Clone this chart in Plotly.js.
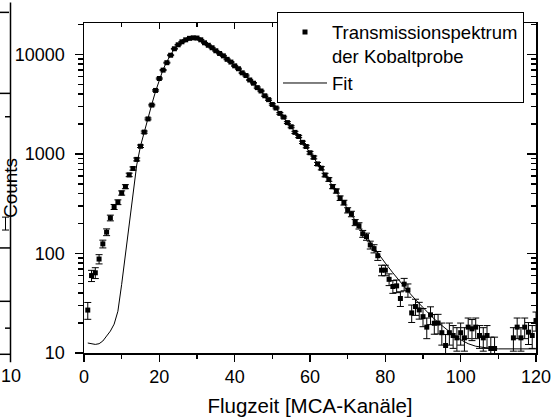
<!DOCTYPE html>
<html>
<head>
<meta charset="utf-8">
<script src="https://cdn.plot.ly/plotly-3.0.1.min.js"></script>
<style>html,body{margin:0;padding:0;background:#fff;}#chart{width:559px;height:417px;}</style>
</head>
<body>
<div id="chart"></div>
<script>
// Measured spectrum (MCA channel, counts)
const channels = [1,2,3,4,5,6,7,8,9,10,11,12,13,14,15,16,17,18,19,20,
  21,22,23,24,25,26,27,28,29,30,31,32,33,34,35,36,37,38,39,40,
  41,42,43,44,45,46,47,48,49,50,51,52,53,54,55,56,57,58,59,60,
  61,62,63,64,65,66,67,68,69,70,71,72,73,74,75,76,77,78,79,80,
  81,82,83,84,85,86,87,88,89,90,91,92,93,94,95,96,97,98,99,100,
  101,102,103,104,105,106,107,108,109,114,115,116,117,118,119,120];
const counts = [27,60,64,88,125,164,228,294,328,406,470,617,715,883,1197,1661,2254,3105,4355,5740,
  6970,8280,9840,11430,12530,13430,14060,14550,14720,14650,14060,13120,12390,11700,10910,10250,9700,8950,8400,7700,
  7200,6550,6150,5550,5150,4650,4300,3850,3520,3150,2900,2560,2350,2070,1880,1650,1500,1310,1190,1030,
  925,795,720,615,555,470,425,360,325,272,250,205,190,158,148,122,112,95,68,68,
  55,46.6,47.3,35.3,49.2,42.9,25.3,29.3,27.1,23.2,18.2,24.2,19.9,20,16,11.9,16,15,14.2,16,
  14.2,18.2,17.5,18.2,15,14.2,15,11.1,11.1,14.2,18.2,14.2,18.2,16.2,15,21.2];
// Fit curve
const fitChannels = [1,2,3,4,5,6,7,8,9,10,11,12,13,14,15,16,17,18,19,20,
  21,22,23,24,25,26,27,28,29,30,31,32,33,34,35,36,37,38,39,40,
  41,42,43,44,45,46,47,48,49,50,51,52,53,54,55,56,57,58,59,60,
  61,62,63,64,65,66,67,68,69,70,71,72,73,74,75,76,77,78,79,80,
  82,84,86,88,90,92,94,96,98,100,102,104,106,108,110,115,120];
const fitCounts = [12.6,12.3,12.2,12.4,13.2,14.8,16.6,19.5,26.3,49,100,214,417,776,1202,1698,2344,3162,4266,5623,
  7079,8511,10000,11482,12589,13490,14125,14555,14723,14622,14125,13335,12589,11803,11092,10351,9661,9016,8356,7762,
  7161,6607,6095,5598,5129,4677,4266,3873,3508,3177,2871,2588,2328,2089,1871,1671,1489,1324,1175,1040,
  916,807,710,624,547,479,419,366,320,280,245,214,188,165,146,129,114,101,90,80,
  64,51.5,41.9,34.4,28.5,23.9,20.3,17.5,15.3,13.6,12.4,11.7,11.3,11.1,11.0,11.0,11.0];
const xTickVals = [0,20,40,60,80,100,120];
const xMinorVals = [10,30,50,70,90,110];
const yTickVals = [10,100,1000,10000];
const yTickText = ['10','100','1000','10000'];
const yMinorVals = [20,30,40,50,60,70,80,90,200,300,400,500,600,700,800,900,
  2000,3000,4000,5000,6000,7000,8000,9000,20000];
const xTitle = 'Flugzeit [MCA-Kanäle]';
const yTitle = 'Counts';
const dataName = 'Transmissionspektrum<br>der Kobaltprobe';
const fitName = 'Fit';

const FONT = 'Liberation Sans, Arial, sans-serif';
const errors = counts.map(v => Math.sqrt(v));

const traces = [
  {x: channels, y: counts, name: dataName, type: 'scatter', mode: 'markers',
   marker: {symbol: 'square', size: 5, color: '#000'},
   error_y: {type: 'data', array: errors, visible: true, color: '#000', thickness: 1, width: 3.5}},
  // fit drawn on the mirrored (top/right) axes, which share exactly the same ranges
  {x: fitChannels, y: fitCounts, name: fitName, type: 'scatter', mode: 'lines',
   xaxis: 'x2', yaxis: 'y2', line: {color: '#000', width: 1}}
];

const L = 84, R = 536, T = 20.7, B = 352.7;
const px = v => (v - L) / (R - L);
const py = v => (B - v) / (B - T);
const seg = (x0, y0, x1, y1, w) => ({type: 'line', xref: 'paper', yref: 'paper',
  x0: px(x0), y0: py(y0), x1: px(x1), y1: py(y1), line: {color: '#000', width: w || 1.5}});

const YR = [1, 4.317];
const base = {showgrid: false, zeroline: false, tickcolor: '#000', tickwidth: 1.5,
  linecolor: '#000', linewidth: 1.5, showline: true};
const minorX = (dir, len) => ({tickmode: 'array', tickvals: xMinorVals, ticks: dir, ticklen: len,
  tickwidth: 1.5, tickcolor: '#000', showgrid: false});
const minorY = (dir, len) => ({tickmode: 'array', tickvals: yMinorVals, ticks: dir, ticklen: len,
  tickwidth: 1.5, tickcolor: '#000', showgrid: false});

const layout = {
  width: 559, height: 417,
  margin: {l: 84, r: 23, t: 20, b: 64},
  paper_bgcolor: '#fff', plot_bgcolor: '#fff',
  font: {family: FONT, color: '#000', size: 18},
  showlegend: true,
  legend: {x: px(277), y: py(10), xanchor: 'left', yanchor: 'top',
    bgcolor: '#fff', bordercolor: '#000', borderwidth: 1,
    font: {family: FONT, size: 18.5, color: '#000'}, valign: 'top', itemwidth: 44,
    tracegroupgap: 0},
  xaxis: Object.assign({}, base, {range: [0, 120], tickvals: xTickVals, ticks: 'outside', ticklen: 7,
    minor: minorX('outside', 4), tickfont: {family: FONT, size: 18},
    title: {text: xTitle, font: {family: FONT, size: 20.5}, standoff: 13}}),
  yaxis: Object.assign({}, base, {type: 'log', range: YR, tickvals: yTickVals, ticktext: yTickText,
    ticks: 'outside', ticklen: 8, ticklabelstandoff: 6, minor: minorY('outside', 5),
    tickfont: {family: FONT, size: 18},
    title: {text: yTitle, font: {family: FONT, size: 19}, standoff: 8}}),
  xaxis2: Object.assign({}, base, {overlaying: 'x', side: 'top', anchor: 'y2', range: [0, 120], tickvals: xTickVals,
    ticks: 'inside', ticklen: 6, showticklabels: false, minor: minorX('inside', 4)}),
  yaxis2: Object.assign({}, base, {overlaying: 'y', side: 'right', anchor: 'x2', type: 'log', range: YR,
    tickvals: yTickVals, ticks: 'inside', ticklen: 9, showticklabels: false, minor: minorY('inside', 5)}),
  shapes: [
    seg(10.5, 0, 10.5, 362),
    seg(0, 10, 9, 10), seg(0, 91.5, 10.5, 91.5), seg(0, 354, 10.5, 354),
    seg(0, 247, 10.5, 247), seg(0, 300.7, 10.5, 300.7),
    seg(5, 115, 10.5, 115), seg(5, 327.7, 10.5, 327.7),
    seg(2, 216, 9, 216, 1), seg(2, 229, 9, 229, 1), seg(5.5, 216, 5.5, 229, 1)
  ],
  annotations: [
    {text: '10', xref: 'paper', yref: 'paper', x: px(11), y: py(376), showarrow: false,
     xanchor: 'center', yanchor: 'middle', font: {family: FONT, size: 18, color: '#000'}}
  ]
};

Plotly.newPlot('chart', traces, layout, {displayModeBar: false, staticPlot: true});
</script>
</body>
</html>
